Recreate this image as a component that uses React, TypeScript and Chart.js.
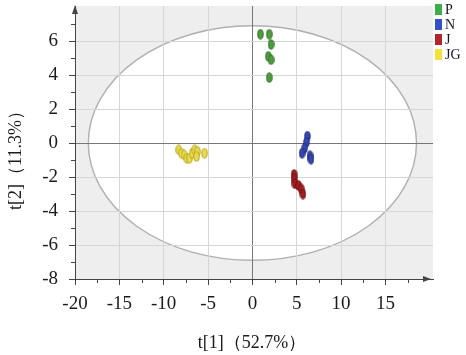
import React, { useEffect, useRef } from 'react';
import { Chart, registerables } from 'chart.js';
Chart.register(...registerables);

const seriesNames = ['P', 'N', 'J', 'JG'];
const fillColors = ['#4f9d3f', '#3747b0', '#a11f22', '#e8da4e'];
const edgeColors = ['#2f6e24', '#1f2a80', '#6e1214', '#b8a624'];
const legendColors = ['#3fae49', '#3350c8', '#b3232a', '#f2e23c'];

const pX = [0.9, 1.9, 2.1, 1.8, 2.1, 1.9];
const pY = [6.4, 6.4, 5.8, 5.1, 4.9, 3.85];
const nX = [6.2, 6.1, 5.9, 5.6, 6.5, 6.6];
const nY = [0.4, 0.05, -0.3, -0.6, -0.75, -0.95];
const jX = [4.7, 4.7, 4.8, 5.2, 5.5, 5.7];
const jY = [-1.85, -2.1, -2.4, -2.5, -2.7, -3.0];
const jgX = [-8.3, -8.0, -7.7, -7.4, -7.1, -6.8, -6.5, -6.2, -6.3, -5.4];
const jgY = [-0.4, -0.6, -0.7, -0.9, -0.9, -0.6, -0.4, -0.5, -0.8, -0.6];

const xTicks = [-20, -15, -10, -5, 0, 5, 10, 15];
const yTicks = [-8, -6, -4, -2, 0, 2, 4, 6];
const xMinorTicks = [-17.5, -12.5, -7.5, -2.5, 2.5, 7.5, 12.5, 17.5];
const yMinorTicks = [-7, -5, -3, -1, 1, 3, 5, 7];
const ellipseA = 18.5;
const ellipseB = 6.9;
const xTitle = 't[1]（52.7%）';
const yTitle = 't[2]（11.3%）';

const SERIF = "'Liberation Serif', 'Times New Roman', serif";

function makeMarker(fill: string, edge: string): HTMLCanvasElement {
  const c = document.createElement('canvas');
  c.width = 7;
  c.height = 11;
  const g = c.getContext('2d')!;
  g.beginPath();
  g.ellipse(3.5, 5.5, 2.7, 4.7, 0, 0, Math.PI * 2);
  g.fillStyle = fill;
  g.fill();
  g.lineWidth = 1;
  g.strokeStyle = edge;
  g.stroke();
  return c;
}

const decor = {
  id: 'decor',
  beforeDraw(chart: any) {
    const { ctx, chartArea: a, scales } = chart;
    ctx.save();
    ctx.fillStyle = '#eeeeee';
    ctx.fillRect(a.left, a.top, a.right - a.left, a.bottom - a.top);
    const cx = scales.x.getPixelForValue(0);
    const cy = scales.y.getPixelForValue(0);
    const rx = scales.x.getPixelForValue(ellipseA) - cx;
    const ry = cy - scales.y.getPixelForValue(ellipseB);
    ctx.beginPath();
    ctx.ellipse(cx, cy, rx, ry, 0, 0, Math.PI * 2);
    ctx.fillStyle = '#ffffff';
    ctx.fill();
    ctx.lineWidth = 1.4;
    ctx.strokeStyle = '#b0b0b0';
    ctx.stroke();
    ctx.restore();
  },
  afterDraw(chart: any) {
    const { ctx, chartArea: a, scales } = chart;
    ctx.save();
    ctx.strokeStyle = '#444';
    ctx.fillStyle = '#444';
    ctx.lineWidth = 1;
    xMinorTicks.forEach((v) => {
      const px = Math.round(scales.x.getPixelForValue(v)) + 0.5;
      ctx.beginPath();
      ctx.moveTo(px, a.bottom);
      ctx.lineTo(px, a.bottom + 4);
      ctx.stroke();
    });
    yMinorTicks.forEach((v) => {
      const py = Math.round(scales.y.getPixelForValue(v)) + 0.5;
      ctx.beginPath();
      ctx.moveTo(a.left, py);
      ctx.lineTo(a.left - 4, py);
      ctx.stroke();
    });
    const ax = a.left;
    ctx.beginPath();
    ctx.moveTo(ax, a.top - 1);
    ctx.lineTo(ax - 3, a.top + 8);
    ctx.lineTo(ax + 3, a.top + 8);
    ctx.closePath();
    ctx.fill();
    const ay = a.bottom;
    ctx.beginPath();
    ctx.moveTo(a.right - 2, ay);
    ctx.lineTo(a.right - 10, ay - 3);
    ctx.lineTo(a.right - 10, ay + 3);
    ctx.closePath();
    ctx.fill();
    ctx.font = `14px ${SERIF}`;
    ctx.textBaseline = 'middle';
    ctx.textAlign = 'left';
    seriesNames.forEach((name, i) => {
      const y0 = 4 + i * 15;
      ctx.fillStyle = legendColors[i];
      ctx.fillRect(435, y0, 7, 11);
      ctx.fillStyle = '#15152a';
      ctx.fillText(name, 445, y0 + 6);
    });
    ctx.fillStyle = '#1a1a1a';
    ctx.font = `18px ${SERIF}`;
    ctx.textAlign = 'center';
    ctx.textBaseline = 'middle';
    ctx.fillText(xTitle, 252, 343);
    ctx.translate(16, 156);
    ctx.rotate(-Math.PI / 2);
    ctx.fillText(yTitle, 0, 0);
    ctx.restore();
  },
};

export default function App() {
  const ref = useRef<HTMLCanvasElement>(null);
  useEffect(() => {
    const xs = [pX, nX, jX, jgX];
    const ys = [pY, nY, jY, jgY];
    const datasets = seriesNames.map((name, i) => ({
      label: name,
      data: xs[i].map((x, k) => ({ x, y: ys[i][k] })),
      pointStyle: makeMarker(fillColors[i], edgeColors[i]) as any,
      backgroundColor: fillColors[i],
      borderColor: edgeColors[i],
      pointRadius: 5,
    }));
    const gridColor = (c: any) => (c.tick && c.tick.value === 0 ? '#777777' : '#d6d6d6');
    const chart = new Chart(ref.current!, {
      type: 'scatter',
      data: { datasets },
      options: {
        animation: false,
        responsive: false,
        devicePixelRatio: 1,
        layout: { padding: { top: 2, right: 33, left: 0, bottom: 0 } },
        plugins: { legend: { display: false }, tooltip: { enabled: false } },
        scales: {
          x: {
            type: 'linear',
            min: -20,
            max: 20.36,
            afterBuildTicks: (s: any) => {
              s.ticks = xTicks.map((v) => ({ value: v }));
            },
            afterFit: (s: any) => {
              s.height = 76;
              s.paddingLeft = 0;
              s.paddingRight = 0;
            },
            grid: { color: gridColor, tickColor: '#444', tickLength: 6, lineWidth: 1 },
            border: { display: true, color: '#444', width: 1 },
            ticks: { font: { family: SERIF, size: 19 }, color: '#1a1a1a', padding: 8, maxRotation: 0 },
          },
          y: {
            type: 'linear',
            min: -8,
            max: 8.06,
            afterBuildTicks: (s: any) => {
              s.ticks = yTicks.map((v) => ({ value: v }));
            },
            afterFit: (s: any) => {
              s.width = 75;
              s.paddingTop = 0;
              s.paddingBottom = 0;
            },
            grid: { color: gridColor, tickColor: '#444', tickLength: 6, lineWidth: 1 },
            border: { display: true, color: '#444', width: 1 },
            ticks: { font: { family: SERIF, size: 19 }, color: '#1a1a1a', padding: 11 },
          },
        },
      },
      plugins: [decor],
    });
    return () => chart.destroy();
  }, []);
  return (
    <div style={{ position: 'fixed', left: 0, top: 0, width: 466, height: 355, background: '#fff' }}>
      <canvas ref={ref} width={466} height={355} style={{ display: 'block', width: 466, height: 355 }} />
    </div>
  );
}
